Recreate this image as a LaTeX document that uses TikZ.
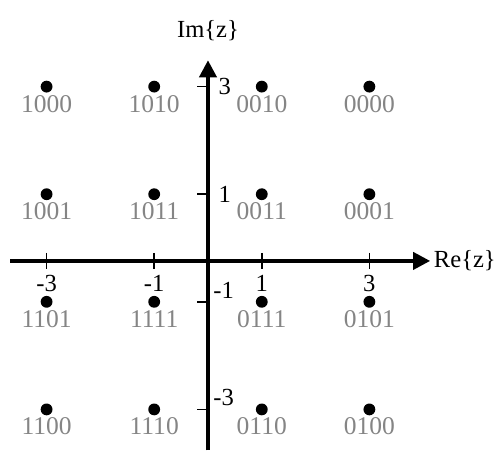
\documentclass[tikz,border=0pt]{standalone}
\usepackage{fontspec}
\setmainfont{Liberation Serif}
\usepackage{xcolor}
\usepackage{tikz}
\usetikzlibrary{arrows.meta,positioning}
\definecolor{mgrey}{HTML}{858585}
\tikzset{
    dot/.style={circle, fill, inner sep=0pt, minimum size=0.22cm},
    bits/.style={text=mgrey, font=\fontsize{13.5}{15}\selectfont, inner sep=1pt, anchor=north},
    num/.style={font=\fontsize{13}{15}\selectfont, inner sep=1pt},
    axis/.style={line width=2pt, -{Triangle[length=9pt,width=9pt]}},
    tick/.style={line width=0.8pt}
}

\begin{document}
\begin{tikzpicture}
        \useasboundingbox (-3.866,-3.755) rectangle (5.465,4.61);

        % axes
        \coordinate (xstart) at (-3.68,-0.24);
        \coordinate (xend) at (4.13,-0.24);
        \coordinate (ystart) at (0,-3.76);
        \coordinate (yend) at (0,3.49);
        \draw[axis] (xstart) -- (xend) node[num, right] (re) {Re\{z\}};
        \draw[axis] (ystart) -- (yend) node[num, above=0.3cm] (im) {Im\{z\}};

        % ticks on Re
        \draw[tick] (-3,-0.09) -- (-3,-0.39) node[num, below=2pt] (xm3) {-3};
        \draw[tick] (-1,-0.09) -- (-1,-0.39) node[num, below=2pt] (xm1) {-1};
        \draw[tick] (1,-0.09) -- (1,-0.39) node[num, below=2pt] (xp1) {1};
        \draw[tick] (3,-0.09) -- (3,-0.39) node[num, below=2pt] (xp3) {3};

        % ticks on Im
        \draw[tick] (-0.2,3) -- (0.03,3) node[num, right=0.12cm] (yp3) {3};
        \draw[tick] (-0.2,1) -- (0.03,1) node[num, right=0.12cm] (yp1) {1};
        \draw[tick] (-0.2,-1) -- (0.03,-1) node[num, above right=0.02cm and 0.02cm] (ym1) {-1};
        \draw[tick] (-0.2,-3) -- (0.03,-3) node[num, above right=0.02cm and 0.02cm] (ym3) {-3};

        % constellation points
        \node[dot] (p1000) at (-3,3) {};  \node[bits] at (p1000.south) {1000};
        \node[dot] (p1010) at (-1,3) {};  \node[bits] at (p1010.south) {1010};
        \node[dot] (p0010) at (1,3) {};   \node[bits] at (p0010.south) {0010};
        \node[dot] (p0000) at (3,3) {};   \node[bits] at (p0000.south) {0000};
        \node[dot] (p1001) at (-3,1) {};  \node[bits] at (p1001.south) {1001};
        \node[dot] (p1011) at (-1,1) {};  \node[bits] at (p1011.south) {1011};
        \node[dot] (p0011) at (1,1) {};   \node[bits] at (p0011.south) {0011};
        \node[dot] (p0001) at (3,1) {};   \node[bits] at (p0001.south) {0001};
        \node[dot] (p1101) at (-3,-1) {}; \node[bits] at (p1101.south) {1101};
        \node[dot] (p1111) at (-1,-1) {}; \node[bits] at (p1111.south) {1111};
        \node[dot] (p0111) at (1,-1) {};  \node[bits] at (p0111.south) {0111};
        \node[dot] (p0101) at (3,-1) {};  \node[bits] at (p0101.south) {0101};
        \node[dot] (p1100) at (-3,-3) {}; \node[bits] at (p1100.south) {1100};
        \node[dot] (p1110) at (-1,-3) {}; \node[bits] at (p1110.south) {1110};
        \node[dot] (p0110) at (1,-3) {};  \node[bits] at (p0110.south) {0110};
        \node[dot] (p0100) at (3,-3) {};  \node[bits] at (p0100.south) {0100};
    \end{tikzpicture}
\end{document}
